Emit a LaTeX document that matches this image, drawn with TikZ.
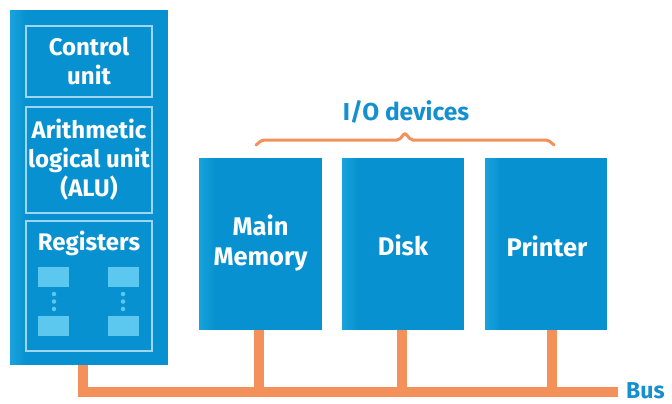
\documentclass[tikz,border=0pt]{standalone}
\usepackage{fontspec}
\setmainfont{Fira Sans}
\definecolor{boxblue}{HTML}{0891D0}
\definecolor{edgeblue}{HTML}{18A3DC}
\definecolor{lineblue}{HTML}{9ED6F0}
\definecolor{regblue}{HTML}{5CC8F0}
\definecolor{busorange}{HTML}{F4905A}
\definecolor{textblue}{HTML}{1590CF}
\tikzset{
  blk/.style={draw=none, fill=boxblue, inner sep=0pt, text=white, align=center,
    font=\fontsize{25.5}{30}\selectfont\bfseries},
  inner/.style={draw=lineblue, line width=1.5pt, fill=boxblue, inner sep=0pt,
    text=white, align=center, minimum width=126pt,
    font=\fontsize{24}{29}\selectfont\bfseries},
  regcell/.style={draw=none, fill=regblue, minimum width=31pt, minimum height=20pt, inner sep=0pt},
  regdot/.style={circle, fill=regblue, draw=none, minimum size=4.5pt, inner sep=0pt},
  bus/.style={draw=busorange, line width=10pt},
  lbl/.style={text=textblue, font=\fontsize{24.5}{29}\selectfont\bfseries, inner sep=0pt}
}
\newcommand{\edgeglow}[2]{% #1 = north west corner, #2 = south west corner
  \foreach \k in {0,...,15} {
    \pgfmathsetmacro{\pct}{100-\k*100/16}
    \fill[edgeblue!\pct!boxblue] ([xshift=\k pt]#1) rectangle ([xshift=\k pt+1.05pt]#2);
  }}
\begin{document}
\begin{tikzpicture}[x=1pt,y=-1pt]
\useasboundingbox (0,0) rectangle (672,404);
% CPU
\node[blk, minimum width=158pt, minimum height=355pt] (cpu) at (89,187.5) {};
\edgeglow{cpu.north west}{cpu.south west}
\node[inner, minimum height=71pt] (ctrl) at (89,61.5) {Control\\unit};
\node[inner, minimum height=106pt] (alu) at (89,160) {Arithmetic\\logical unit\\(ALU)};
\node[inner, minimum height=130pt] (reg) at (89,286) {};
\node[text=white, inner sep=0pt, font=\fontsize{24}{29}\selectfont\bfseries] (regtxt) at (89,243) {Registers};
\node[regcell] (r1) at (53.5,277) {};
\node[regcell] (r2) at (123,277) {};
\node[regcell] (r3) at (53.5,326) {};
\node[regcell] (r4) at (123,326) {};
\foreach \y [count=\i] in {294,301.5,309} {
  \node[regdot] (dl\i) at (54,\y) {};
  \node[regdot] (dr\i) at (123,\y) {};
}
% devices
\node[blk, minimum width=123pt, minimum height=172pt] (mem) at (260.5,244) {};
\node[blk, minimum width=122pt, minimum height=172pt] (disk) at (403,244) {};
\node[blk, minimum width=122pt, minimum height=172pt] (prn) at (546,244) {};
\edgeglow{mem.north west}{mem.south west}
\edgeglow{disk.north west}{disk.south west}
\edgeglow{prn.north west}{prn.south west}
\node[blk, fill=none] (memtxt) at (260.5,243) {Main\\Memory};
\node[blk, fill=none] (disktxt) at (403,245) {Disk};
\node[blk, fill=none] (prntxt) at (547,246) {Printer};
% I/O label and brace
\node[lbl] (io) at (406,112) {I/O devices};
\draw[busorange, line width=3pt, line cap=round, rounded corners=2pt]
  (256,145) -- (262,140) -- (399,140) -- (405,133) -- (411,140) -- (548,140) -- (554,145);
% bus
\coordinate (busstart) at (83,392);
\coordinate (busend) at (618,392);
\draw[bus] (cpu.south -| busstart) -- (busstart.center) -- (busend);
\draw[bus] ([xshift=-2pt]mem.south) -- ([xshift=-2pt]mem.south |- busend);
\draw[bus] ([xshift=-1pt]disk.south) -- ([xshift=-1pt]disk.south |- busend);
\draw[bus] ([xshift=6pt]prn.south) -- ([xshift=6pt]prn.south |- busend);
\node[lbl, anchor=west, font=\fontsize{23}{27}\selectfont\bfseries] (buslbl) at (626,391) {Bus};
\end{tikzpicture}
\end{document}
